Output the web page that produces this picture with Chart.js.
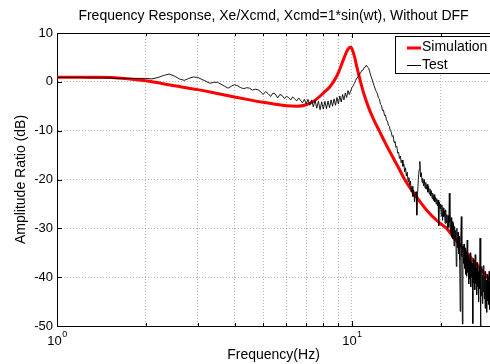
<!DOCTYPE html>
<html>
<head>
<meta charset="utf-8">
<script src="https://cdn.jsdelivr.net/npm/chart.js@4.4.1/dist/chart.umd.min.js"></script>
<style>
  body { margin: 0; background: #fff; }
</style>
</head>
<body>
<canvas id="freqChart" width="490" height="364"></canvas>
<script>
// simulation curve
const simHz = [1.0, 1.4, 1.7, 2.0, 2.5, 3.0, 3.5, 4.0, 4.5, 5.0, 5.5, 6.0, 6.5, 7.0, 7.5, 8.0, 8.4, 8.7, 9.0,
  9.35, 9.6, 9.8, 9.9, 10.0, 10.2, 10.4, 10.7, 11.0, 11.5, 12.0, 12.4, 13.0, 13.7, 14.4, 15.1, 16.0, 17.0, 18.0,
  19.4, 21.0, 22.0, 23.7, 25.7, 27.2, 29.4];
const simDb = [0.95, 0.95, 0.7, 0.2, -0.8, -1.6, -2.4, -3.1, -3.7, -4.2, -4.6, -4.9, -5.0, -4.7, -3.8, -2.3, -1.1, 0.2, 1.9,
  4.5, 6.2, 7.0, 7.1, 6.8, 5.2, 3.0, 0.0, -2.6, -5.9, -8.4, -10.1, -12.6, -15.2, -17.6, -20.0, -22.3, -24.5, -26.4,
  -28.4, -30.1, -31.7, -33.9, -36.5, -38.2, -40.6];

// test record, sampled every 0.1 Hz from 1.0 Hz
const testStartHz = 1.0;
const testStepHz = 0.1;
const testDb = [
  0.9, 0.9, 0.9, 0.8, 0.8, 0.8, 0.7, 0.7, 0.7, 0.7,
  0.7, 0.6, 0.9, 1.3, 1.6, 1.2, 0.6, 0.3, 0.7, 1.0,
  0.9, 0.5, 0.1, -0.3, -0.1, -0.1, -0.5, -0.9, -1.3, -0.9,
  -0.6, -0.8, -1.2, -1.4, -1.2, -1.3, -1.7, -1.5, -1.6, -2.0,
  -2.6, -2.0, -2.4, -3.0, -2.3, -2.5, -3.3, -2.6, -2.8, -3.4,
  -3.0, -3.2, -3.7, -3.1, -3.5, -3.9, -3.3, -3.8, -4.3, -3.6,
  -4.5, -3.6, -4.8, -3.7, -5.1, -3.8, -5.4, -4.0, -5.7, -4.1,
  -5.6, -4.0, -5.5, -3.9, -5.3, -3.7, -5.0, -3.5, -4.8, -3.2,
  -4.5, -2.9, -4.1, -2.6, -3.7, -2.3, -3.2, -1.8, -2.6, -1.9,
  -1.2, -0.8, -0.3, 0.3, 0.8, 1.0, 1.5, 1.8, 2.3, 2.4,
  2.9, 3.0, 3.4, 3.0, 2.8, 2.0, 1.2, 0.6, -0.2, -0.8,
  -1.5, -2.0, -2.4, -3.3, -3.5, -4.6, -4.8, -5.9, -5.8, -6.9,
  -6.8, -7.9, -8.0, -8.9, -9.1, -10.0, -10.3, -11.2, -11.0, -12.4,
  -12.2, -13.4, -13.2, -14.6, -14.4, -15.7, -15.2, -16.6, -16.0, -17.3,
  -16.8, -18.4, -17.6, -19.3, -18.5, -20.4, -19.6, -21.2, -20.3, -22.6,
  -21.4, -23.5, -22.2, -24.6, -22.8, -22.5, -27.3, -23.0, -20.0, -18.0,
  -16.3, -19.5, -18.6, -20.6, -19.8, -21.3, -20.0, -21.8, -20.6, -22.0,
  -21.0, -22.6, -21.4, -23.0, -21.9, -23.4, -22.3, -23.9, -22.8, -24.3,
  -23.1, -24.6, -23.6, -25.0, -23.9, -25.4, -24.2, -29.5, -24.6, -26.0,
  -25.0, -27.5, -25.2, -28.4, -25.8, -27.6, -26.4, -29.0, -26.2, -28.8,
  -27.2, -30.2, -27.4, -29.8, -22.8, -28.8, -31.0, -27.8, -31.8, -28.6,
  -32.2, -29.0, -33.6, -29.6, -32.2, -30.4, -37.8, -30.0, -34.0, -30.8,
  -35.2, -31.6, -36.4, -47.0, -31.6, -27.6, -35.8, -49.6, -33.6, -37.2,
  -33.2, -38.2, -34.0, -39.4, -34.8, -39.8, -32.4, -39.0, -35.6, -41.4,
  -36.2, -40.4, -35.0, -42.0, -36.8, -40.0, -37.2, -49.5, -36.2, -41.2,
  -37.4, -42.6, -35.4, -41.4, -38.0, -43.6, -37.0, -42.0, -38.8, -45.0,
  -38.2, -42.4, -32.0, -50.0, -39.2, -43.8, -37.8, -45.4, -39.6, -43.0,
  -37.6, -44.4, -39.8, -46.4, -38.8, -44.0, -40.6, -47.2, -39.4, -44.8,
  -40.8, -45.6, -38.8, -46.6, -41.2
];

const xTickValues = [1, 2, 3, 4, 5, 6, 7, 8, 9, 10, 20];
const xTickLabels = { 1: '0', 10: '1' }; // exponents of 10
const yTickValues = [-50, -40, -30, -20, -10, 0, 10];

const FONT = 'Liberation Sans, Arial, sans-serif';

const simPoints = simHz.map((f, i) => ({ x: f, y: simDb[i] }));
const testPoints = testDb.map((v, i) => ({ x: +(testStartHz + i * testStepHz).toFixed(2), y: v }));

// title, axis titles, tick labels for the log axis, inner tick marks, legend box
const decorations = {
  id: 'decorations',
  afterDraw(chart) {
    const { ctx, chartArea: a, scales } = chart;
    ctx.save();
    ctx.fillStyle = '#000';
    ctx.font = '14px ' + FONT;
    ctx.textAlign = 'center';
    ctx.textBaseline = 'middle';
    ctx.fillText('Frequency Response, Xe/Xcmd, Xcmd=1*sin(wt), Without DFF', (a.left + a.right) / 2, 16);
    ctx.fillText('Frequency(Hz)', (a.left + a.right) / 2, 355);

    ctx.save();
    ctx.translate(21, (a.top + a.bottom) / 2);
    ctx.rotate(-Math.PI / 2);
    ctx.fillText('Amplitude Ratio (dB)', 0, 0);
    ctx.restore();

    // 10^n labels
    Object.keys(xTickLabels).forEach(v => {
      const px = scales.x.getPixelForValue(+v);
      ctx.font = '13px ' + FONT;
      const wBase = ctx.measureText('10').width;
      ctx.font = '9px ' + FONT;
      const wExp = ctx.measureText(xTickLabels[v]).width;
      const left = px - (wBase + wExp) / 2;
      ctx.textAlign = 'left';
      ctx.textBaseline = 'alphabetic';
      ctx.font = '13px ' + FONT;
      ctx.fillText('10', left, 345);
      ctx.font = '9px ' + FONT;
      ctx.fillText(xTickLabels[v], left + wBase + 0.5, 337);
    });

    // top border and inward ticks
    ctx.strokeStyle = '#000';
    ctx.lineWidth = 1;
    ctx.beginPath();
    ctx.moveTo(a.left, a.top + 0.5);
    ctx.lineTo(a.right, a.top + 0.5);
    xTickValues.forEach(v => {
      const px = Math.round(scales.x.getPixelForValue(v)) + 0.5;
      const len = (v === 1 || v === 10) ? 5 : 3;
      ctx.moveTo(px, a.bottom);
      ctx.lineTo(px, a.bottom - len);
      ctx.moveTo(px, a.top);
      ctx.lineTo(px, a.top + len);
    });
    yTickValues.forEach(v => {
      const py = Math.round(scales.y.getPixelForValue(v)) + 0.5;
      ctx.moveTo(a.left, py);
      ctx.lineTo(a.left + 5, py);
    });
    ctx.stroke();

    // legend
    const bx = 395.5, by = 36.5;
    ctx.fillStyle = '#fff';
    ctx.fillRect(bx, by, 100, 37);
    ctx.strokeRect(bx, by, 100, 37);
    ctx.beginPath();
    ctx.strokeStyle = '#ff0000';
    ctx.lineWidth = 3;
    ctx.moveTo(407, 48);
    ctx.lineTo(421, 48);
    ctx.stroke();
    ctx.beginPath();
    ctx.strokeStyle = '#000';
    ctx.lineWidth = 1;
    ctx.moveTo(407, 65.5);
    ctx.lineTo(421, 65.5);
    ctx.stroke();
    ctx.fillStyle = '#000';
    ctx.font = '14px ' + FONT;
    ctx.textAlign = 'left';
    ctx.textBaseline = 'middle';
    ctx.fillText('Simulation', 422, 47);
    ctx.fillText('Test', 422, 65);
    ctx.restore();
  }
};

new Chart(document.getElementById('freqChart'), {
  type: 'line',
  data: {
    datasets: [
      {
        label: 'Test',
        data: testPoints,
        borderColor: '#000',
        borderWidth: 0.9,
        pointRadius: 0,
        tension: 0,
        order: 0
      },
      {
        label: 'Simulation',
        data: simPoints,
        borderColor: '#ff0000',
        borderWidth: 3,
        pointRadius: 0,
        cubicInterpolationMode: 'monotone',
        order: 1
      }
    ]
  },
  options: {
    responsive: false,
    animation: false,
    layout: { padding: { top: 33, right: 0, left: 0, bottom: 0 } },
    plugins: {
      legend: { display: false },
      tooltip: { enabled: false }
    },
    scales: {
      x: {
        type: 'logarithmic',
        min: 1,
        max: 29.4,
        afterBuildTicks(scale) {
          scale.ticks = xTickValues.map(v => ({ value: v }));
        },
        afterFit(scale) { scale.height = 38; },
        ticks: { display: false },
        grid: { color: 'rgba(0,0,0,0.3)', lineWidth: 1, drawTicks: false },
        border: { display: true, color: '#000', width: 1, dash: [1, 2] }
      },
      y: {
        min: -50,
        max: 10,
        afterBuildTicks(scale) {
          scale.ticks = yTickValues.map(v => ({ value: v }));
        },
        afterFit(scale) { scale.width = 57; },
        ticks: {
          color: '#000',
          font: { family: FONT, size: 13 },
          padding: 4,
          callback: v => String(v)
        },
        grid: { color: 'rgba(0,0,0,0.3)', lineWidth: 1, drawTicks: false },
        border: { display: true, color: '#000', width: 1, dash: [1, 2] }
      }
    }
  },
  plugins: [decorations]
});
</script>
</body>
</html>
